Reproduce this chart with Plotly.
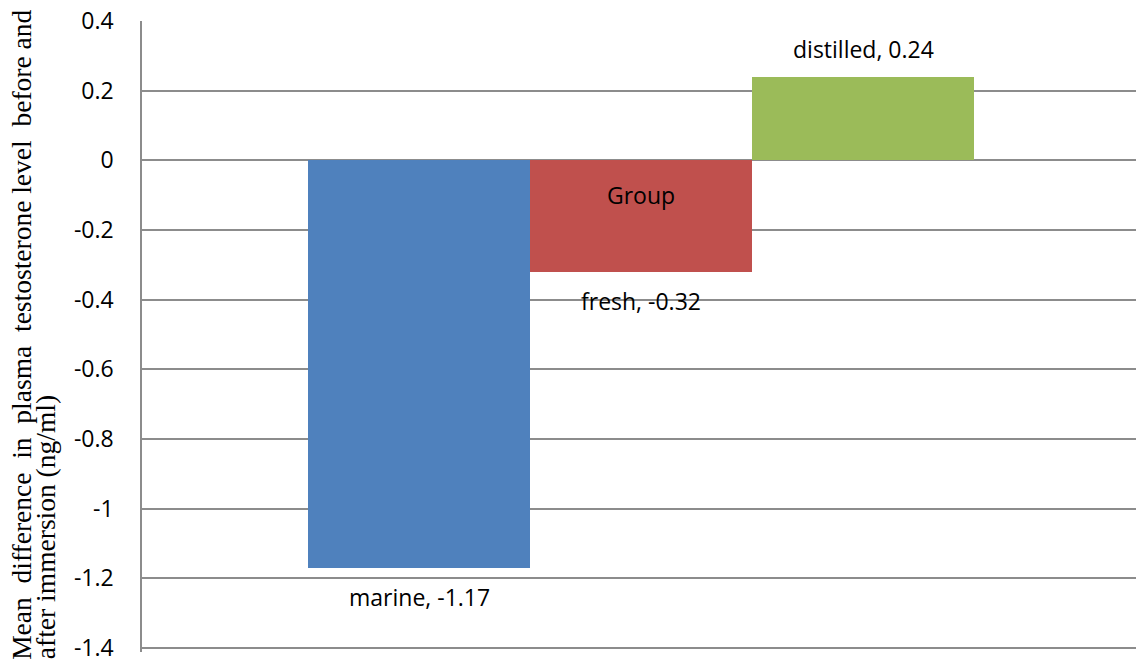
import plotly.graph_objects as go

# ---- data ----
categories = ["marine", "fresh", "distilled"]
values = [-1.17, -0.32, 0.24]
bar_colors = ["#4F81BD", "#C0504D", "#9BBB59"]
group_label = "Group"
y_tickvals = [0.4, 0.2, 0, -0.2, -0.4, -0.6, -0.8, -1, -1.2, -1.4]
y_ticktext = ["0.4", "0.2", "0", "-0.2", "-0.4", "-0.6", "-0.8", "-1", "-1.2", "-1.4"]
y_title_words1 = ["Mean", "difference", "in", "plasma", "testosterone", "level", "before", "and"]
y_title_line2 = "after immersion (ng/ml)"

# justified-looking spacing between words of the first title line
gaps = ["\u00a0 ", "\u00a0 ", "\u00a0 ", "\u00a0 ", " ", "\u00a0 ", " "]
y_title_line1 = y_title_words1[0] + "".join(g + w for g, w in zip(gaps, y_title_words1[1:]))

label_font = dict(family="Open Sans", size=23, color="#000000")
title_font = dict(family="Liberation Serif", size=27.5, color="#000000")
grid_color = "#8c8c8c"

fig = go.Figure()
fig.add_trace(go.Bar(
    x=categories,
    y=values,
    marker=dict(color=bar_colors, line=dict(width=0)),
    showlegend=False,
    hoverinfo="x+y",
))

# data labels
for c, v in zip(categories, values):
    fig.add_annotation(
        x=c, y=v, xref="x", yref="y",
        text=f"{c}, {v:g}",
        showarrow=False,
        yshift=28 if v >= 0 else -29,
        font=label_font,
    )

# category label "Group" at centre of the group, just below zero line
fig.add_annotation(
    x=categories[1], y=0, xref="x", yref="y",
    text=group_label, showarrow=False, yshift=-35, font=label_font,
)

# y-axis title (two lines, bottom aligned)
fig.add_annotation(
    x=-0.1215, y=0.503, xref="paper", yref="paper",
    text=y_title_line1, showarrow=False, textangle=-90,
    xanchor="center", yanchor="middle",
    font=title_font,
)
fig.add_annotation(
    x=-0.0976, y=-0.0145, xref="paper", yref="paper",
    text=y_title_line2, showarrow=False, textangle=-90,
    xanchor="center", yanchor="bottom",
    font=title_font,
)

fig.update_layout(
    width=1136, height=661,
    margin=dict(l=142, r=0, t=21, b=9, autoexpand=False),
    paper_bgcolor="white", plot_bgcolor="white",
    bargap=0,
    xaxis=dict(
        range=[-1.25, 3.23],
        showticklabels=False, showgrid=False, zeroline=False,
        showline=False, fixedrange=True,
    ),
    yaxis=dict(
        range=[-1.412, 0.4005],
        tickvals=y_tickvals, ticktext=y_ticktext,
        tickfont=label_font,
        showgrid=True, gridcolor=grid_color, gridwidth=1.5,
        zeroline=True, zerolinecolor=grid_color, zerolinewidth=1.5,
        showline=True, linecolor=grid_color, linewidth=1.5,
        ticks="", ticklabelstandoff=22, ticklabeloverflow="allow",
    ),
)

fig.write_html(
    "out.html",
    config={"displayModeBar": False},
    post_script="document.body.style.margin='0';document.body.style.overflow='hidden';",
)
